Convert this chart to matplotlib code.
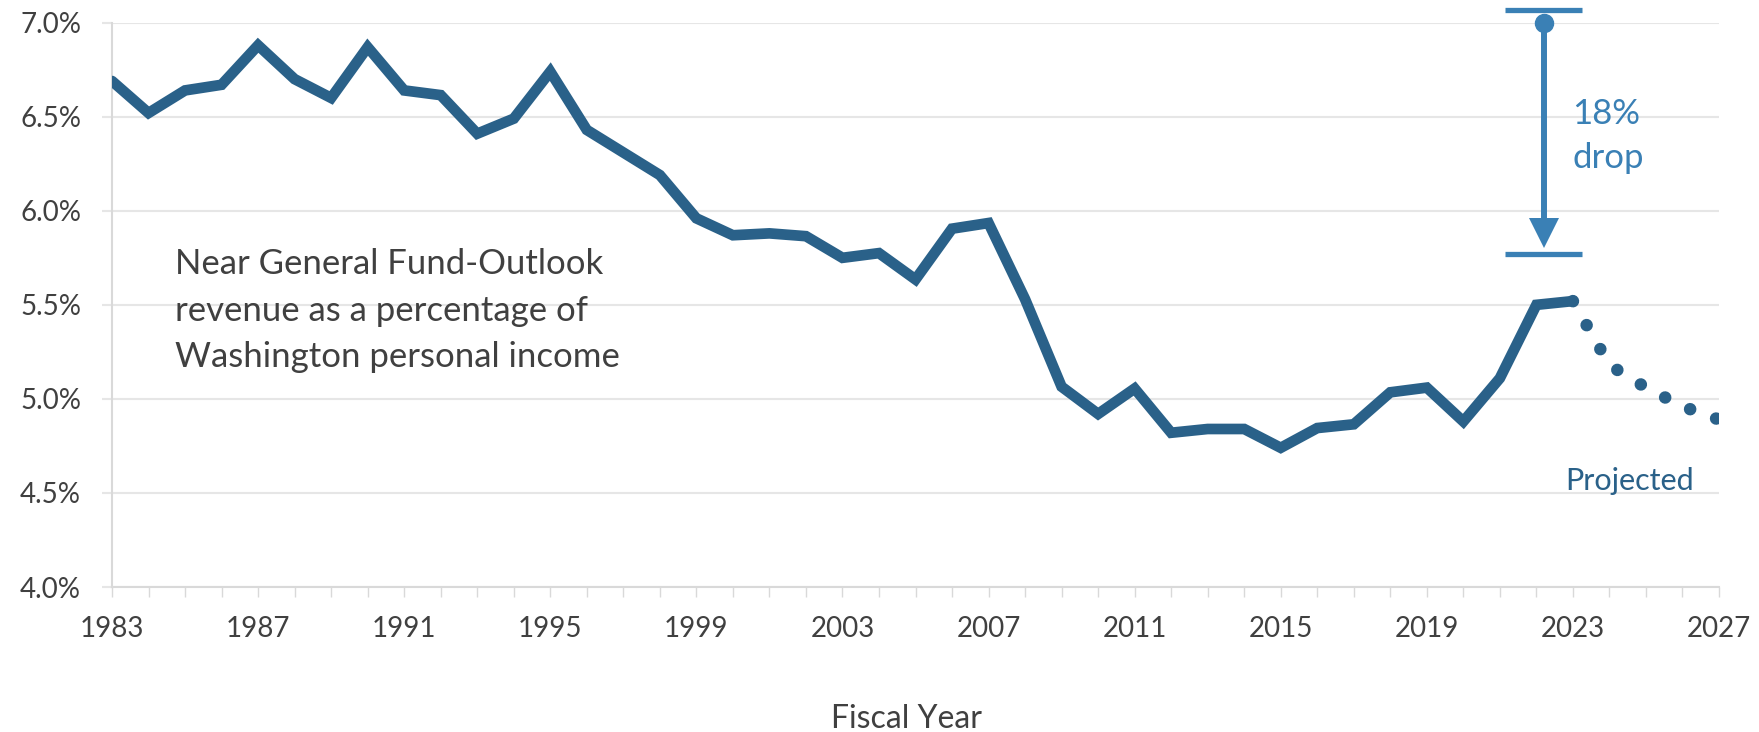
import numpy as np
import matplotlib
matplotlib.use("Agg")
import matplotlib.pyplot as plt
from matplotlib.ticker import MultipleLocator, FuncFormatter

plt.rcParams['font.family'] = ['Lato', 'DejaVu Sans']

# revenue as % of personal income, fiscal years
years = list(range(1983, 2024))
share = [6.69, 6.52, 6.64, 6.67, 6.88, 6.70, 6.60, 6.87, 6.64, 6.615,
         6.41, 6.49, 6.74, 6.43, 6.31, 6.19, 5.96, 5.87, 5.88, 5.865,
         5.75, 5.775, 5.635, 5.905, 5.935, 5.53, 5.065, 4.92, 5.055, 4.82,
         4.84, 4.84, 4.74, 4.845, 4.865, 5.035, 5.06, 4.88, 5.11, 5.50,
         5.52]

# forecast years
proj_years = [2023, 2024, 2025, 2026, 2027]
proj_share = [5.52, 5.18, 5.06, 4.96, 4.89]

year_ticks = list(range(1983, 2028, 4))

# "18% drop" marker
drop_x = 2022.2
drop_top = 7.0
drop_bottom = 5.77

line_col = '#2a6189'
note_col = '#3a80b5'
text_col = '#404040'
grid_col = '#e6e6e6'

fig = plt.figure(figsize=(17.59, 7.32), dpi=100)
ax = fig.add_axes([112/1759, 1-587/732, (1719-112)/1759, (587-22.7)/732])

ax.plot(years, share, color=line_col, lw=7.7, solid_joinstyle='miter',
        solid_capstyle='round', zorder=3)
ax.plot(proj_years, proj_share, color=line_col, lw=9.0,
        linestyle=(0, (0.01, 2.2)), dash_capstyle='round', zorder=3)

# drop annotation
ax.plot([drop_x, drop_x], [drop_top, drop_bottom + 0.11], color=note_col,
        lw=4.3, clip_on=False, zorder=4)
ax.plot(drop_x, drop_top, 'o', color=note_col, ms=13, clip_on=False, zorder=4)
ax.plot(drop_x, drop_bottom + 0.113, 'v', color=note_col, ms=21, mew=0,
        clip_on=False, zorder=4)
for yv in [drop_top + 0.066, drop_bottom]:
    ax.plot([drop_x - 1.05, drop_x + 1.05], [yv, yv], color=note_col, lw=3.8,
            solid_capstyle='butt', clip_on=False, zorder=4)
ax.text(2022.98, 6.60, '18%\ndrop', color=note_col, fontsize=25,
        ha='left', va='top', linespacing=1.45)

ax.text(2024.54, 4.517, 'Projected', color=line_col, fontsize=22,
        ha='center', va='baseline')
ax.text(1984.72, 5.80,
        'Near General Fund-Outlook\nrevenue as a percentage of\nWashington personal income',
        color=text_col, fontsize=25, ha='left', va='top', linespacing=1.55)

ax.set_xlim(1983, 2027)
ax.set_ylim(4.0, 7.0)
ax.set_xticks(year_ticks)
ax.xaxis.set_minor_locator(MultipleLocator(1))
ax.yaxis.set_major_locator(MultipleLocator(0.5))
ax.yaxis.set_major_formatter(FuncFormatter(lambda v, p: f'{v:.1f}%'))

ax.grid(axis='y', color=grid_col, lw=1.5)
ax.set_axisbelow(True)
for s in ['top', 'right']:
    ax.spines[s].set_visible(False)
for s in ['left', 'bottom']:
    ax.spines[s].set_color('#d9d9d9')
    ax.spines[s].set_linewidth(1.5)

ax.tick_params(axis='y', length=7.2, width=1.5, color=grid_col, pad=15,
               labelsize=20, labelcolor=text_col)
ax.tick_params(axis='x', which='both', length=7.2, width=1.0, color='#d9d9d9',
               pad=14, labelsize=20, labelcolor=text_col)

fig.text(906/1759, 1-728/732, 'Fiscal Year', color=text_col, fontsize=23,
         ha='center', va='baseline')

fig.savefig('out.png', dpi=100, facecolor='white')
